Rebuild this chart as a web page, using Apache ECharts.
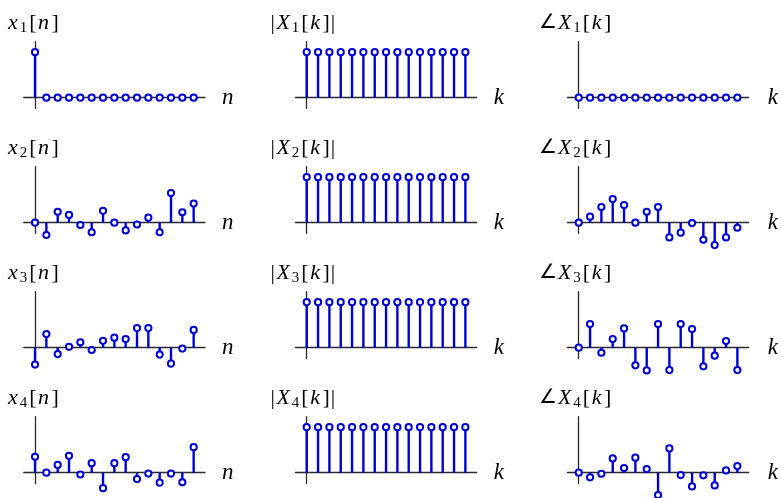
<!DOCTYPE html>
<html>
<head>
<meta charset="utf-8">
<script src="https://cdn.jsdelivr.net/npm/echarts@6/dist/echarts.min.js"></script>
<style>html,body{margin:0;padding:0;background:#fff}#c{width:782px;height:498px}</style>
</head>
<body>
<div id="c"></div>
<script>
// sample index n / k
const idx = [0,1,2,3,4,5,6,7,8,9,10,11,12,13,14];

// time-domain signals
const x1 = [1,0,0,0,0,0,0,0,0,0,0,0,0,0,0];
const x2 = [0,-0.27,0.24,0.17,-0.05,-0.21,0.26,0,-0.17,-0.04,0.11,-0.21,0.65,0.23,0.42];
const x3 = [-0.37,0.30,-0.14,0.02,0.12,-0.05,0.15,0.22,0.19,0.43,0.43,-0.15,-0.35,-0.02,0.39];
const x4 = [0.35,0,0.17,0.37,-0.04,0.21,-0.34,0.21,0.34,-0.14,-0.02,-0.22,-0.02,-0.21,0.56];

// DFT magnitudes
const mag1 = [1,1,1,1,1,1,1,1,1,1,1,1,1,1,1];
const mag2 = [1,1,1,1,1,1,1,1,1,1,1,1,1,1,1];
const mag3 = [1,1,1,1,1,1,1,1,1,1,1,1,1,1,1];
const mag4 = [1,1,1,1,1,1,1,1,1,1,1,1,1,1,1];

// DFT phases (radians)
const ph1 = [0,0,0,0,0,0,0,0,0,0,0,0,0,0,0];
const ph2 = [0,0.78,2.03,3.06,2.28,0,1.42,2.03,-1.90,-1.29,-0.04,-2.20,-2.89,-1.90,-0.65];
const ph3 = [0,3.06,-0.65,1.12,2.50,-2.28,-2.93,3.06,-2.89,3.06,2.41,-2.41,-1.03,0.86,-2.89];
const ph4 = [0,-0.60,-0.13,1.85,0.60,1.94,0.47,-2.89,3.14,-0.30,-1.77,-0.34,-1.64,0.30,0.86];

const panels = [
  [{d:x1,t:['x','1','n'],kind:'x'},{d:mag1,t:['X','1','k'],kind:'m'},{d:ph1,t:['X','1','k'],kind:'p'}],
  [{d:x2,t:['x','2','n'],kind:'x'},{d:mag2,t:['X','2','k'],kind:'m'},{d:ph2,t:['X','2','k'],kind:'p'}],
  [{d:x3,t:['x','3','n'],kind:'x'},{d:mag3,t:['X','3','k'],kind:'m'},{d:ph3,t:['X','3','k'],kind:'p'}],
  [{d:x4,t:['x','4','n'],kind:'x'},{d:mag4,t:['X','4','k'],kind:'m'},{d:ph4,t:['X','4','k'],kind:'p'}]
];

const BLUE = '#0000d0';
const AXC = '#2a2a2a';
const SERIF = '"Liberation Serif","DejaVu Serif",serif';
const colLeft = [23.7, 295.4, 567.4];
const colTitle = [7, 270, 539];
const gridW = 181.3, gridH = 66.7, rowH = 125, topOff = 41.7;

const grids=[], xAxes=[], yAxes=[], series=[], graphics=[];
const rich = {
  i:{fontFamily:SERIF,fontStyle:'italic',fontSize:22,lineHeight:26,verticalAlign:'middle',color:'#000',padding:[0,2,0,1]},
  r:{fontFamily:SERIF,fontSize:22,lineHeight:26,verticalAlign:'middle',color:'#000',padding:[0,0.5,0,0.5]},
  a:{fontFamily:'"DejaVu Sans",sans-serif',fontSize:20,lineHeight:26,verticalAlign:'middle',color:'#000',padding:[0,0,0,0]},
  s:{fontFamily:SERIF,fontSize:15,lineHeight:15,verticalAlign:'bottom',color:'#000',padding:[0,1.5,0,0]}
};

panels.forEach((row,r)=>{
  row.forEach((p,c)=>{
    const g = grids.length;
    grids.push({left:colLeft[c], top:topOff+r*rowH, width:gridW, height:gridH});
    xAxes.push({type:'value', gridIndex:g, min:-1, max:15,
      axisLine:{show:true,onZero:true,lineStyle:{color:AXC,width:1.3}},
      axisTick:{show:false}, axisLabel:{show:false}, splitLine:{show:false},
      name:p.t[2], nameLocation:'end', nameGap:c===2?19:17,
      nameTextStyle:{fontFamily:SERIF,fontStyle:'italic',fontSize:23,color:'#000',verticalAlign:'middle',padding:[0,0,2,0]}});
    const rng = p.kind==='p' ? [-1.38,7.24] : [-0.235,1.23];
    yAxes.push({type:'value', gridIndex:g, min:rng[0], max:rng[1],
      axisLine:{show:true,onZero:true,lineStyle:{color:AXC,width:1.3}},
      axisTick:{show:false}, axisLabel:{show:false}, splitLine:{show:false}});
    series.push({type:'custom', xAxisIndex:g, yAxisIndex:g, clip:false, z:5,
      data: idx.map((n,i)=>[n,p.d[i]]),
      renderItem:function(params, api){
        const xv = api.value(0), yv = api.value(1);
        const p0 = api.coord([xv,0]), p1 = api.coord([xv,yv]);
        return {type:'group', children:[
          {type:'line', shape:{x1:p0[0],y1:p0[1],x2:p1[0],y2:p1[1]}, style:{stroke:BLUE,lineWidth:2.4}},
          {type:'circle', shape:{cx:p1[0],cy:p1[1],r:3.1}, style:{fill:'#fff',stroke:BLUE,lineWidth:2}}
        ]};
      }});
    let txt;
    if(p.kind==='x') txt = '{i|'+p.t[0]+'}{s|'+p.t[1]+'}{r|[}{i|'+p.t[2]+'}{r|]}';
    else if(p.kind==='m') txt = '{r||}{i|'+p.t[0]+'}{s|'+p.t[1]+'}{r|[}{i|'+p.t[2]+'}{r|]}{r||}';
    else txt = '{a|∠}{i|'+p.t[0]+'}{s|'+p.t[1]+'}{r|[}{i|'+p.t[2]+'}{r|]}';
    graphics.push({type:'text', left:colTitle[c], top:12+r*rowH, style:{text:txt, rich:rich}});
  });
});

const chart = echarts.init(document.getElementById('c'), null, {renderer:'canvas'});
chart.setOption({
  animation:false,
  grid:grids, xAxis:xAxes, yAxis:yAxes, series:series, graphic:graphics
});
</script>
</body>
</html>
